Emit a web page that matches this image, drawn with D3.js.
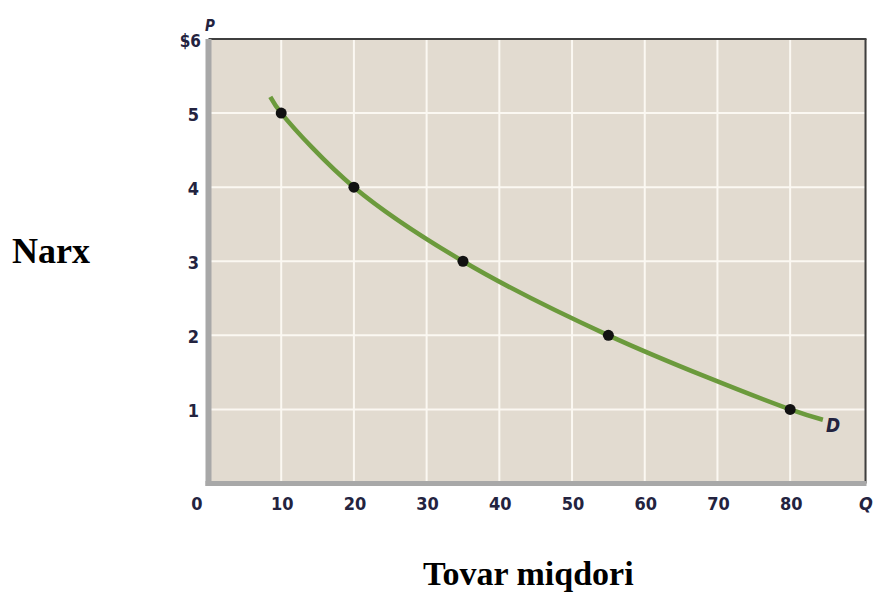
<!DOCTYPE html>
<html><head><meta charset="utf-8">
<script src="https://cdn.jsdelivr.net/npm/d3@7"></script>
<style>body{margin:0;background:#fff}svg{display:block}</style>
</head><body>
<script>
const xTicks = [10, 20, 30, 40, 50, 60, 70, 80];
const xTickLabels = ["10", "20", "30", "40", "50", "60", "70", "80"];
const yTicks = [1, 2, 3, 4, 5];
const yTickLabels = ["1", "2", "3", "4", "5"];
const quantity = [10, 20, 35, 55, 80];
const price = [5, 4, 3, 2, 1];
const curveQ = [8.5, 10, 20, 35, 55, 80, 84.5];
const curveP = [5.22, 5, 4, 3, 2, 1, 0.86];

const W = 873, H = 592;
const svg = d3.select("body").append("svg").attr("width", W).attr("height", H);
const x = d3.scaleLinear().domain([0, 90.5]).range([208.5, 866.5]);
const y = d3.scaleLinear().domain([0, 6]).range([483.5, 39]);

const tickFont = "'Liberation Sans Narrow', 'Arial Narrow', 'DejaVu Sans Condensed', sans-serif";
const tickColor = "#23233f";

svg.append("rect").attr("x", x(0)).attr("y", y(6)).attr("width", x(90.5) - x(0)).attr("height", y(0) - y(6)).attr("fill", "#e2dbd0");

svg.append("g").selectAll("line").data(xTicks).join("line")
  .attr("x1", d => x(d)).attr("x2", d => x(d)).attr("y1", y(6)).attr("y2", y(0))
  .attr("stroke", "#fbf8f2").attr("stroke-width", 2);
svg.append("g").selectAll("line").data(yTicks).join("line")
  .attr("x1", x(0)).attr("x2", x(90.5)).attr("y1", d => y(d)).attr("y2", d => y(d))
  .attr("stroke", "#fbf8f2").attr("stroke-width", 2);

svg.append("line").attr("x1", x(0)).attr("x2", x(90.5)).attr("y1", y(6)).attr("y2", y(6)).attr("stroke", "#3f3f3f").attr("stroke-width", 2);
svg.append("line").attr("x1", x(90.5) - 1).attr("x2", x(90.5) - 1).attr("y1", y(6)).attr("y2", y(0)).attr("stroke", "#3f3f3f").attr("stroke-width", 2);
svg.append("line").attr("x1", x(0) - 3).attr("x2", x(90.5)).attr("y1", y(0)).attr("y2", y(0)).attr("stroke", "#a8a8a8").attr("stroke-width", 5);
svg.append("line").attr("x1", x(0)).attr("x2", x(0)).attr("y1", y(6)).attr("y2", y(0) + 2.5).attr("stroke", "#a8a8a8").attr("stroke-width", 6);

const pts = curveQ.map((q, i) => [q, curveP[i]]);
svg.append("path").datum(pts)
  .attr("d", d3.line().x(d => x(d[0])).y(d => y(d[1])).curve(d3.curveCatmullRom.alpha(0.5)))
  .attr("fill", "none").attr("stroke", "#6b9a3c").attr("stroke-width", 4.5).attr("stroke-linecap", "butt");

svg.append("g").selectAll("circle").data(quantity.map((q, i) => [q, price[i]])).join("circle")
  .attr("cx", d => x(d[0])).attr("cy", d => y(d[1])).attr("r", 5.5).attr("fill", "#111");

function label(g, xx, yy, txt, opts) {
  return g.append("text").attr("x", xx).attr("y", yy)
    .attr("text-anchor", opts.anchor || "middle")
    .attr("font-family", tickFont).attr("font-weight", 700)
    .attr("font-style", opts.italic ? "italic" : "normal")
    .attr("font-size", opts.size || 18).attr("fill", tickColor).text(txt);
}

svg.append("g").selectAll("text").data(xTicks).join("text")
  .attr("x", d => x(d) + 1).attr("y", 510).attr("text-anchor", "middle")
  .attr("font-family", tickFont).attr("font-weight", 700).attr("font-size", 18).attr("fill", tickColor)
  .text((d, i) => xTickLabels[i]);
label(svg, 197, 510, "0", {});
label(svg, 866, 510, "Q", {italic: true});

svg.append("g").selectAll("text").data(yTicks).join("text")
  .attr("x", 199).attr("y", d => y(d) + 7.5).attr("text-anchor", "end")
  .attr("font-family", tickFont).attr("font-weight", 700).attr("font-size", 18).attr("fill", tickColor)
  .text((d, i) => yTickLabels[i]);
label(svg, 201, y(6) + 8, "$6", {anchor: "end", size: 17});
label(svg, 210, 31, "P", {italic: true, size: 15});

label(svg, 833, 432, "D", {italic: true, size: 19});

svg.append("text").attr("x", 12).attr("y", 263)
  .attr("font-family", "'Liberation Serif', 'Times New Roman', serif").attr("font-weight", 700).attr("font-size", 36).attr("fill", "#000").text("Narx");
svg.append("text").attr("x", 423).attr("y", 585)
  .attr("font-family", "'Liberation Serif', 'Times New Roman', serif").attr("font-weight", 700).attr("font-size", 34).attr("fill", "#000").text("Tovar miqdori");
</script>
</body></html>
